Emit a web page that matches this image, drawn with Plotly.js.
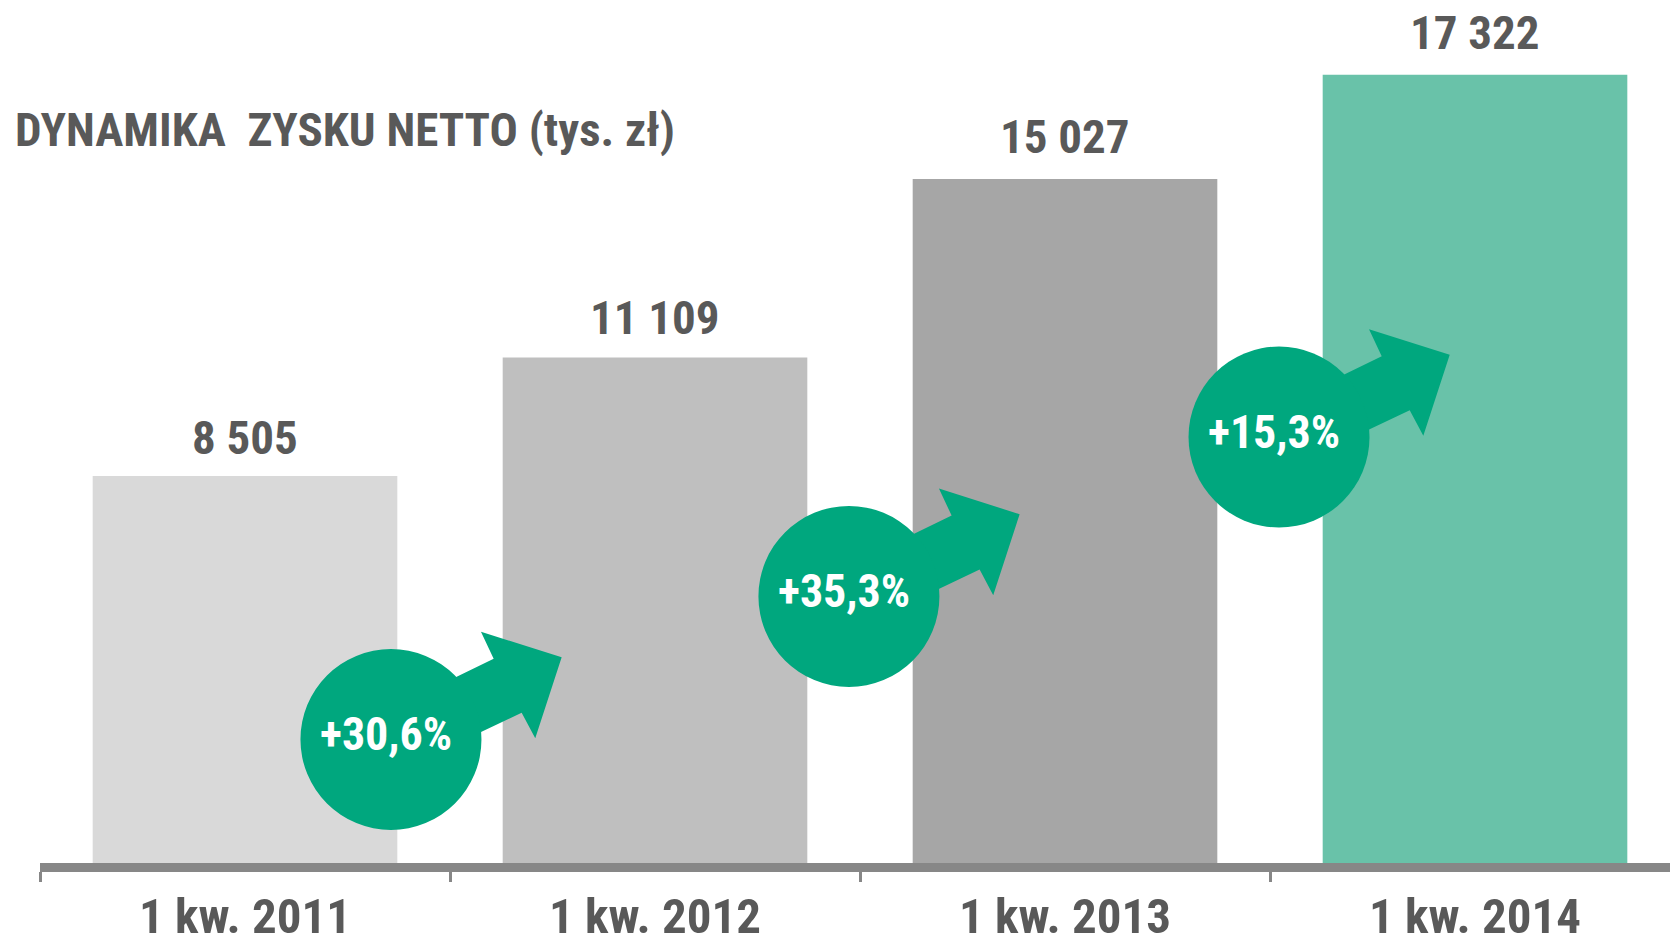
<!DOCTYPE html>
<html>
<head>
<meta charset="utf-8">
<script src="https://cdn.plot.ly/plotly-3.0.1.min.js"></script>
<style>html,body{margin:0;padding:0;background:#fff;}#chart{width:1670px;height:946px;}</style>
</head>
<body>
<div id="chart"></div>
<script>
// ---- data ----
const categories = ["1 kw. 2011", "1 kw. 2012", "1 kw. 2013", "1 kw. 2014"];
const profit = [8505, 11109, 15027, 17322];
const profitLabels = ["8 505", "11 109", "15 027", "17 322"];
const growthLabels = ["+30,6%", "+35,3%", "+15,3%"];
const chartTitle = "DYNAMIKA\u00a0 ZYSKU NETTO (tys. zł)";

// ---- styling / layout constants ----
const FONT = "'Liberation Sans Narrow', 'Arial Narrow', 'Roboto Condensed', sans-serif";
const TEXT = "#595959";
const GREEN = "#00A77E";
const barColors = ["#D9D9D9", "#BFBFBF", "#A6A6A6", "#69C2A9"];
const labelShift = [9, 10, 13, 13];
const badgeAnchors = [[0.356, 2714], [1.473, 5858], [2.522, 9360]];
const R = 90.5;
const arrowPath = "M20,40.6 L102.7,80.8 L90,107.8 L170.7,82.2 L144.3,1.2 L130.7,26.8 L40,-16.3 Z";

const trace = {
  type: "bar",
  x: categories,
  y: profit,
  marker: {color: barColors, line: {width: 0}},
  width: 0.743,
  hoverinfo: "x+y"
};

const annotations = [];
categories.forEach((c, i) => {
  annotations.push({
    x: c, y: profit[i], xref: "x", yref: "y",
    text: profitLabels[i], showarrow: false,
    yanchor: "bottom", yshift: labelShift[i],
    font: {family: FONT, size: 47, color: TEXT, weight: "bold"}
  });
});
const shapes = [];
growthLabels.forEach((g, i) => {
  const [ax, ay] = badgeAnchors[i];
  shapes.push({
    type: "path", xref: "x", yref: "y", xsizemode: "pixel", ysizemode: "pixel",
    xanchor: ax, yanchor: ay, path: arrowPath,
    fillcolor: GREEN, line: {width: 0}
  });
  shapes.push({
    type: "circle", xref: "x", yref: "y", xsizemode: "pixel", ysizemode: "pixel",
    xanchor: ax, yanchor: ay, x0: -R, x1: R, y0: -R, y1: R,
    fillcolor: GREEN, line: {width: 0}
  });
  annotations.push({
    x: ax, y: ay, xref: "x", yref: "y", text: g, showarrow: false,
    xshift: -5, yshift: 5,
    font: {family: FONT, size: 46, color: "#FFFFFF", weight: "bold"}
  });
});
annotations.push({
  xref: "paper", yref: "paper", x: -0.0166, y: 0.853, xanchor: "left", yanchor: "middle",
  text: chartTitle, showarrow: false,
  font: {family: FONT, size: 47, color: TEXT, weight: "bold"}
});

const layout = {
  width: 1670, height: 946,
  margin: {l: 40, r: 0, t: 3, b: 83},
  paper_bgcolor: "#FFFFFF", plot_bgcolor: "#FFFFFF",
  showlegend: false,
  bargap: 0.257,
  xaxis: {
    type: "category",
    range: [-0.5, 3.4756],
    showline: true, linecolor: "#878787", linewidth: 9,
    ticks: "outside", tickson: "boundaries", ticklen: 10, tickwidth: 3, tickcolor: "#878787",
    ticklabelstandoff: 2,
    tickfont: {family: FONT, size: 49, color: TEXT, weight: "bold"},
    showgrid: false, zeroline: false, fixedrange: true
  },
  yaxis: {
    range: [0, 18897], visible: false, showgrid: false, zeroline: false, fixedrange: true
  },
  annotations: annotations,
  shapes: shapes
};

Plotly.newPlot("chart", [trace], layout, {displayModeBar: false, staticPlot: true});
</script>
</body>
</html>
